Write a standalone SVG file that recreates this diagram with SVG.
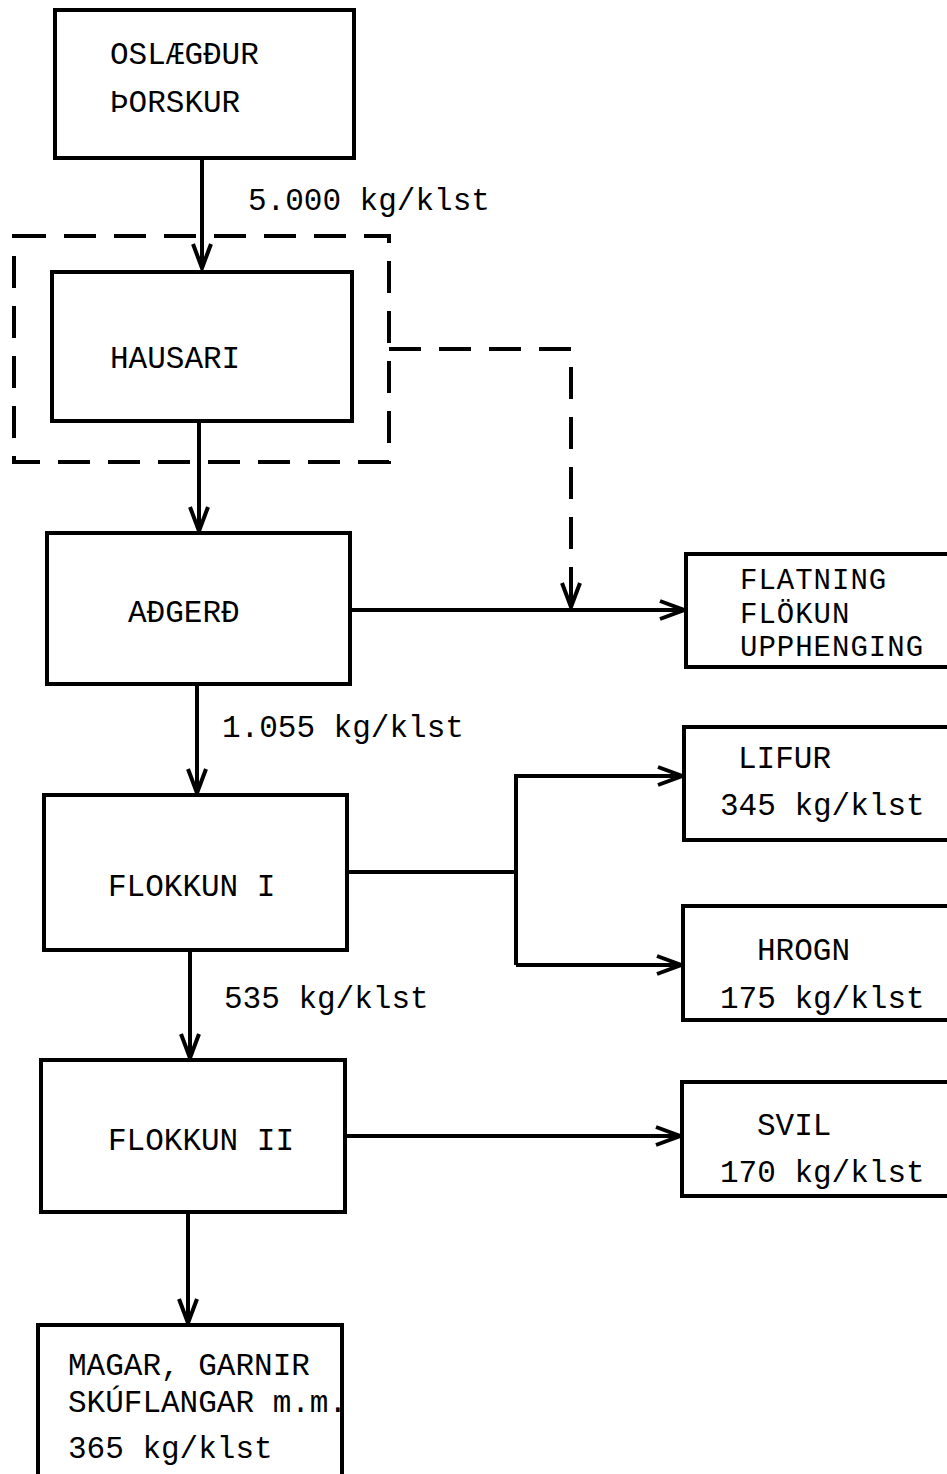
<svg xmlns="http://www.w3.org/2000/svg" width="947" height="1474" viewBox="0 0 947 1474">
<style>
.box{fill:#fff;stroke:#000;stroke-width:4}
.ln{fill:none;stroke:#000;stroke-width:4}
.dash{fill:none;stroke:#000;stroke-width:4;stroke-dasharray:32 18}
text{font-family:"Liberation Mono","Courier New",monospace;font-size:31px;fill:#000}
.sm{font-size:29px;letter-spacing:1px}
</style>
<defs>
<marker id="ah" markerUnits="userSpaceOnUse" markerWidth="30" markerHeight="30" viewBox="-26 -13 30 26" refX="0" refY="0" orient="auto">
<path d="M-24,-9 L0,0 L-24,9" fill="none" stroke="#000" stroke-width="4"/>
</marker>
</defs>
<rect width="947" height="1474" fill="#fff"/>
<g id="connectors">
<line class="ln" x1="202" y1="158" x2="202" y2="268" marker-end="url(#ah)"/>
<line class="ln" x1="199" y1="421" x2="199" y2="531" marker-end="url(#ah)"/>
<line class="ln" x1="350" y1="610" x2="684" y2="610" marker-end="url(#ah)"/>
<path class="dash" d="M389,349 H571 V580"/>
<line class="ln" x1="571" y1="575" x2="571" y2="607" marker-end="url(#ah)"/>
<line class="ln" x1="197" y1="684" x2="197" y2="793" marker-end="url(#ah)"/>
<path class="ln" d="M347,872 H516 V965"/>
<path class="ln" d="M516,872 V776 H682" marker-end="url(#ah)"/>
<line class="ln" x1="516" y1="965" x2="681" y2="965" marker-end="url(#ah)"/>
<line class="ln" x1="190" y1="950" x2="190" y2="1058" marker-end="url(#ah)"/>
<line class="ln" x1="345" y1="1136" x2="680" y2="1136" marker-end="url(#ah)"/>
<line class="ln" x1="188" y1="1212" x2="188" y2="1323" marker-end="url(#ah)"/>
</g>
<g id="labels">
<text x="248" y="210">5.000 kg/klst</text>
<text x="222" y="737">1.055 kg/klst</text>
<text x="224" y="1008">535 kg/klst</text>
</g>
<g id="hausari-group">
<rect class="dash" x="14" y="236" width="375" height="226"/>
</g>
<g id="oslaegdur">
<rect class="box" x="55" y="10" width="299" height="148"/>
<text x="110" y="64">OSLÆGÐUR</text>
<text x="110" y="112">ÞORSKUR</text>
</g>
<g id="hausari">
<rect class="box" x="52" y="272" width="300" height="149"/>
<text x="110" y="368">HAUSARI</text>
</g>
<g id="adgerd">
<rect class="box" x="47" y="533" width="303" height="151"/>
<text x="128" y="622">AÐGERÐ</text>
</g>
<g id="flatning">
<rect class="box" x="686" y="554" width="270" height="113"/>
<text class="sm" x="740" y="589">FLATNING</text>
<text class="sm" x="740" y="623">FLÖKUN</text>
<text class="sm" x="740" y="656">UPPHENGING</text>
</g>
<g id="flokkun1">
<rect class="box" x="44" y="795" width="303" height="155"/>
<text x="108" y="896">FLOKKUN I</text>
</g>
<g id="lifur">
<rect class="box" x="684" y="727" width="270" height="113"/>
<text x="738" y="768">LIFUR</text>
<text x="720" y="815">345 kg/klst</text>
</g>
<g id="hrogn">
<rect class="box" x="683" y="906" width="270" height="114"/>
<text x="757" y="960">HROGN</text>
<text x="720" y="1008">175 kg/klst</text>
</g>
<g id="flokkun2">
<rect class="box" x="41" y="1060" width="304" height="152"/>
<text x="108" y="1150">FLOKKUN II</text>
</g>
<g id="svil">
<rect class="box" x="682" y="1082" width="270" height="114"/>
<text x="757" y="1135">SVIL</text>
<text x="720" y="1182">170 kg/klst</text>
</g>
<g id="magar">
<rect class="box" x="38" y="1325" width="304" height="160"/>
<text x="68" y="1375">MAGAR, GARNIR</text>
<text x="68" y="1412">SKÚFLANGAR m.m.</text>
<text x="68" y="1458">365 kg/klst</text>
</g>
</svg>
